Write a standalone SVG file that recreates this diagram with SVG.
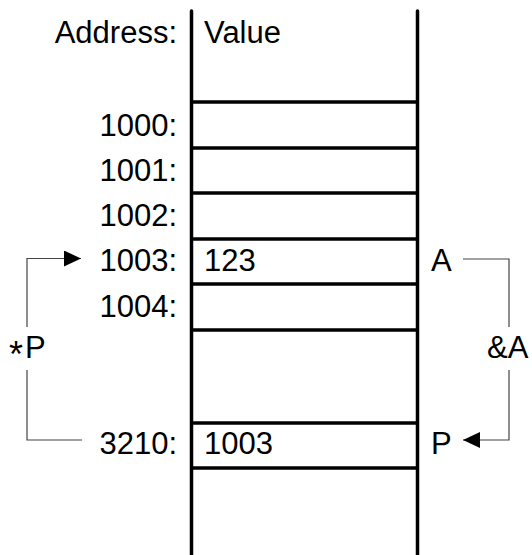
<svg xmlns="http://www.w3.org/2000/svg" width="532" height="555" viewBox="0 0 532 555">
<style>
text{font-family:"Liberation Sans",Arial,sans-serif;font-size:31px;fill:#000}
.addr{text-anchor:end}
.wall{stroke:#000;stroke-width:3.5;fill:none;stroke-linecap:round}
.row{stroke:#000;stroke-width:3.5;fill:none}
.conn{stroke:#444;stroke-width:1.2;fill:none}
</style>
<defs>
<marker id="arr" markerUnits="userSpaceOnUse" markerWidth="18" markerHeight="16" refX="17" refY="8" orient="auto">
<path d="M0,0 L17,8 L0,16 Z" fill="#000"/>
</marker>
</defs>
<g id="memory">
<line class="wall" x1="191.5" y1="11" x2="191.5" y2="560"/>
<line class="wall" x1="417.5" y1="11" x2="417.5" y2="560"/>
<line class="row" x1="191.5" y1="102" x2="417.5" y2="102"/>
<line class="row" x1="191.5" y1="148" x2="417.5" y2="148"/>
<line class="row" x1="191.5" y1="193" x2="417.5" y2="193"/>
<line class="row" x1="191.5" y1="239" x2="417.5" y2="239"/>
<line class="row" x1="191.5" y1="284" x2="417.5" y2="284"/>
<line class="row" x1="191.5" y1="330" x2="417.5" y2="330"/>
<line class="row" x1="191.5" y1="423" x2="417.5" y2="423"/>
<line class="row" x1="191.5" y1="468" x2="417.5" y2="468"/>
</g>
<g id="header">
<text class="addr" x="177" y="43">Address:</text>
<text x="204" y="43">Value</text>
</g>
<g id="cell-1000"><text class="addr" x="177" y="136">1000:</text></g>
<g id="cell-1001"><text class="addr" x="177" y="181">1001:</text></g>
<g id="cell-1002"><text class="addr" x="177" y="226">1002:</text></g>
<g id="cell-1003"><text class="addr" x="177" y="271">1003:</text><text x="204" y="271">123</text><text x="431" y="271">A</text></g>
<g id="cell-1004"><text class="addr" x="177" y="317">1004:</text></g>
<g id="cell-3210"><text class="addr" x="177" y="454">3210:</text><text x="204" y="454">1003</text><text x="431" y="454">P</text></g>
<g id="connectors">
<path class="conn" d="M27,327 L27,258.5 L81,258.5" marker-end="url(#arr)"/>
<path class="conn" d="M27,370 L27,440 L82,440"/>
<path class="conn" d="M463,259 L509,259 L509,327"/>
<path class="conn" d="M509,370 L509,440 L463,440" marker-end="url(#arr)"/>
</g>
<g id="labels">
<text x="9" y="358"><tspan font-size="36" dy="9">*</tspan><tspan dx="2" dy="-9">P</tspan></text>
<text x="487" y="358">&amp;A</text>
</g>
</svg>
